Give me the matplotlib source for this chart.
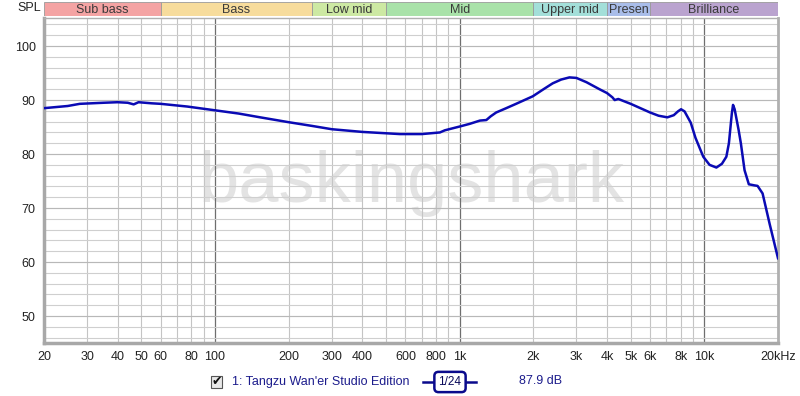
import matplotlib
matplotlib.use("Agg")
import matplotlib.pyplot as plt
from matplotlib.patches import Rectangle
from matplotlib.lines import Line2D

plt.rcParams['font.family'] = ['Liberation Sans', 'DejaVu Sans']

# 频响数据 (Hz, dB)
freq_hz = [20, 25, 28, 35, 40, 44, 46.5, 48.7, 55, 60, 77, 100, 125, 153, 200, 250,
           300, 400, 570, 700, 830, 870, 1000, 1100, 1210, 1285, 1340, 1410, 1550,
           1700, 1990, 2200, 2400, 2600, 2810, 3000, 3300, 3730, 4000, 4210, 4300,
           4450, 5000, 6000, 6500, 7060, 7500, 7800, 8030, 8300, 8800, 9200, 9900,
           10500, 11200, 11800, 12300, 12600, 12950, 13100, 13300, 13800, 14100,
           14600, 15200, 16000, 16500, 17300, 18500, 20000]
spl_db = [88.5, 88.9, 89.3, 89.5, 89.6, 89.5, 89.2, 89.6, 89.4, 89.3, 88.8, 88.1,
          87.5, 86.8, 85.9, 85.2, 84.6, 84.1, 83.7, 83.7, 84.0, 84.4, 85.1, 85.6,
          86.2, 86.3, 87.0, 87.7, 88.5, 89.3, 90.7, 92.0, 93.1, 93.8, 94.2, 94.1,
          93.3, 92.0, 91.3, 90.5, 90.0, 90.2, 89.3, 87.7, 87.1, 86.8, 87.2, 87.9,
          88.3, 87.9, 85.8, 83.0, 79.5, 78.0, 77.5, 78.2, 79.5, 82.0, 87.5, 89.1,
          88.3, 84.5, 82.0, 77.0, 74.4, 74.2, 74.1, 72.7, 67.0, 60.7]

# 顶部频段
band_names = ["Sub bass", "Bass", "Low mid", "Mid", "Upper mid", "Presen", "Brilliance"]
band_edges = [20, 60, 250, 500, 2000, 4000, 6000, 20000]
band_colors = ["#f4a3a3", "#f7dc9c", "#cde9a3", "#a9e2a9", "#a3dfd9", "#a9bde9", "#baa3cf"]

x_ticks = [20, 30, 40, 50, 60, 80, 100, 200, 300, 400, 600, 800, 1000,
           2000, 3000, 4000, 5000, 6000, 8000, 10000, 20000]
x_labels = ["20", "30", "40", "50", "60", "80", "100", "200", "300", "400", "600", "800", "1k",
            "2k", "3k", "4k", "5k", "6k", "8k", "10k", "20kHz"]
y_ticks = [50, 60, 70, 80, 90, 100]

fig = plt.figure(figsize=(8, 3.96), dpi=100)
W, H = 800, 396
ax = fig.add_axes([44 / W, 1 - 343 / H, (778 - 44) / W, (343 - 18) / H])
ax.set_xscale('log')
ax.set_xlim(20, 20000)
ax.set_ylim(45, 105.2)

# 网格 (画在水印上面)
minor = [m * d for d in (10, 100, 1000, 10000) for m in range(2, 10) if 20 <= m * d <= 20000]
for f in minor:
    ax.axvline(f, color='#c4c4c4', lw=0.8, zorder=1)
for f in (100, 1000, 10000):
    ax.axvline(f, color='#6e6e6e', lw=0.9, zorder=1)
for y in range(46, 106, 2):
    ax.axhline(y, color='#cfcfcf', lw=0.8, zorder=1)
for y in y_ticks:
    ax.axhline(y, color='#b8b8b8', lw=0.8, zorder=1)

ax.set_xticks(x_ticks)
ax.set_xticklabels(x_labels)
ax.xaxis.set_minor_locator(matplotlib.ticker.NullLocator())
ax.set_yticks(y_ticks)
ax.tick_params(length=0, labelsize=9, colors='#222222', pad=6)

for side in ('top', 'right'):
    ax.spines[side].set_color('#b0b0b0')
    ax.spines[side].set_linewidth(1.0)
ax.spines['right'].set_linewidth(2.0)
for side in ('left', 'bottom'):
    ax.spines[side].set_color('#a8a8a8')
    ax.spines[side].set_linewidth(2.5)

# 水印
ax.text(0.5, 0.434, "baskingshark", transform=ax.transAxes, ha='center', va='baseline',
        fontsize=52, color='#e3e3e3', zorder=0.5)

ax.plot(freq_hz, spl_db, color='#0a0ab4', lw=1.8, zorder=3)

# 顶部频段色条
band_ax = fig.add_axes([44 / W, 1 - 16 / H, (778 - 44) / W, 14 / H])
band_ax.set_xscale('log')
band_ax.set_xlim(20, 20000)
band_ax.set_ylim(0, 1)
band_ax.axis('off')
for name, lo, hi, c in zip(band_names, band_edges[:-1], band_edges[1:], band_colors):
    band_ax.add_patch(Rectangle((lo, 0), hi - lo, 1, facecolor=c, edgecolor='#9a9a9a', lw=0.6))
    band_ax.text((lo * hi) ** 0.5, 0.45, name, ha='center', va='center',
                 fontsize=9, color='#3a3a3a')

fig.text(17 / W, 1 - 8 / H, "SPL", fontsize=9, va='center', color='#222222')

# 图例
fig.patches.append(Rectangle((211 / W, 1 - 388 / H), 11 / W, 12 / H, transform=fig.transFigure,
                             facecolor='#e8e8e8', edgecolor='#555555', lw=0.8))
fig.text(216.5 / W, 1 - 381.5 / H, "\u2714", fontsize=9, ha='center', va='center',
         color='#111111', family=['DejaVu Sans'])
fig.text(232 / W, 1 - 381.5 / H, "1: Tangzu Wan'er Studio Edition", fontsize=9,
         va='center', color='#1c1c8c')
fig.lines.append(Line2D([423 / W, 476 / W], [1 - 382 / H, 1 - 382 / H],
                        transform=fig.transFigure, color='#0a0a8c', lw=1.8))
fig.text(450 / W, 1 - 382 / H, "1/24", fontsize=8.5, ha='center', va='center', color='#0a0a5a',
         bbox=dict(boxstyle='round,pad=0.35,rounding_size=0.35', facecolor='white',
                   edgecolor='#0a0a8c', lw=1.8))
fig.text(519 / W, 1 - 381.5 / H, "87.9 dB", fontsize=9, va='center', color='#1c1c8c')

fig.savefig("out.png", dpi=100, facecolor='white')
